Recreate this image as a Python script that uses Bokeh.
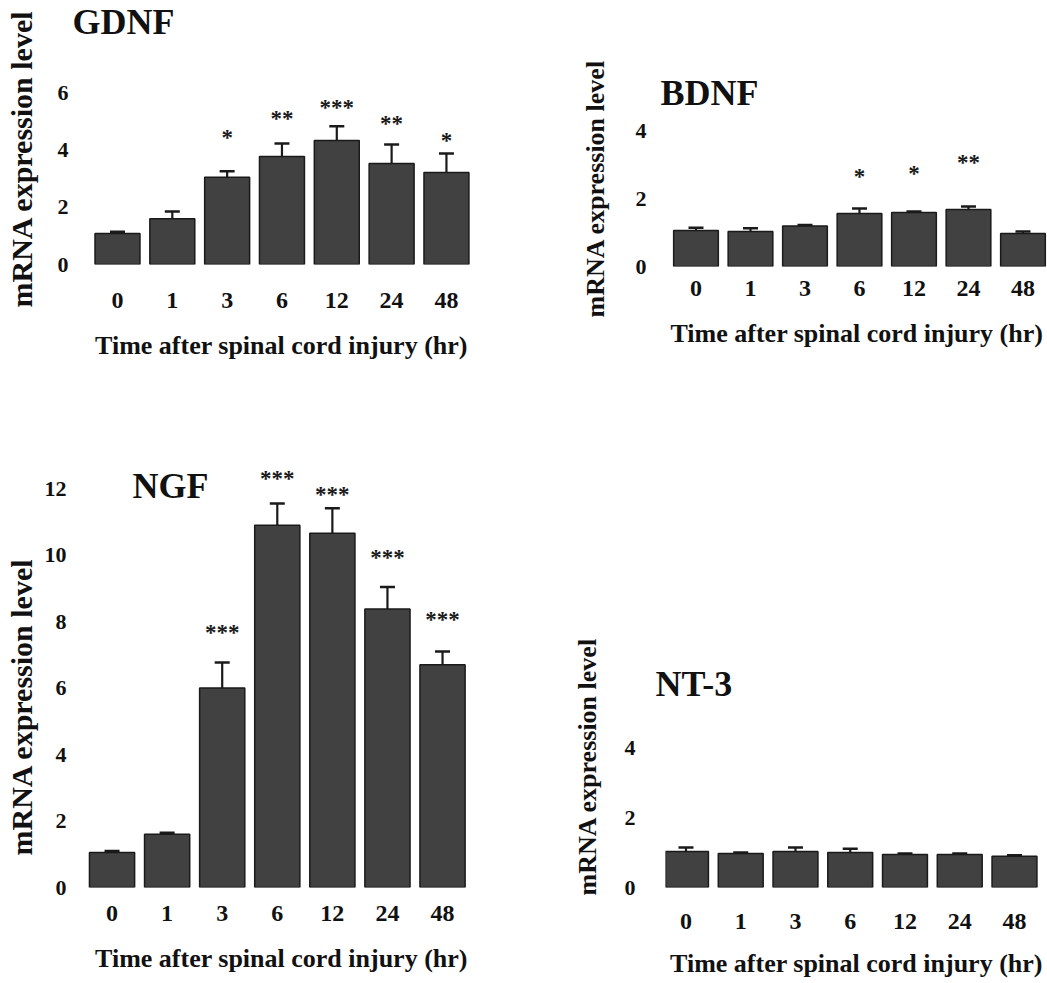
from bokeh.plotting import figure
from bokeh.models import Range1d, FixedTicker, Label, Whisker, ColumnDataSource, TeeHead, Title
from bokeh.layouts import column, row
from bokeh.embed import file_html
from bokeh.resources import INLINE
from bokeh.core.properties import value

# ---------------- data ----------------
categories = ["0", "1", "3", "6", "12", "24", "48"]

gdnf_mean = [1.08, 1.60, 3.04, 3.77, 4.33, 3.52, 3.21]
gdnf_sem = [0.06, 0.25, 0.21, 0.45, 0.49, 0.67, 0.66]
gdnf_sig = ["", "", "*", "**", "***", "**", "*"]
gdnf_sig_y = [0, 0, 4.54, 5.20, 5.59, 5.03, 4.43]

bdnf_mean = [1.07, 1.04, 1.20, 1.57, 1.60, 1.69, 0.98]
bdnf_sem = [0.08, 0.09, 0.03, 0.15, 0.03, 0.09, 0.06]
bdnf_sig = ["", "", "", "*", "*", "**", ""]
bdnf_sig_y = [0, 0, 0, 2.76, 2.84, 3.17, 0]

ngf_mean = [1.05, 1.60, 6.00, 10.90, 10.66, 8.38, 6.70]
ngf_sem = [0.05, 0.05, 0.77, 0.65, 0.75, 0.66, 0.40]
ngf_sig = ["", "", "***", "***", "***", "***", "***"]
ngf_sig_y = [0, 0, 7.75, 12.40, 11.90, 10.03, 8.14]

nt3_mean = [1.03, 0.97, 1.03, 1.00, 0.94, 0.94, 0.89]
nt3_sem = [0.11, 0.03, 0.11, 0.11, 0.03, 0.03, 0.03]
nt3_sig = ["", "", "", "", "", "", ""]
nt3_sig_y = [0, 0, 0, 0, 0, 0, 0]

y_label = "mRNA expression level"
x_label = "Time after spinal cord injury (hr)"

FONT = "Liberation Serif"
FONT_V = value(FONT)
BAR_FILL = "#414141"
DARK = "#1a1a1a"
TXT = "#111111"


def panel(name, mean, sem, sig, sig_y, yticks, g):
    p = figure(width=g["w"], height=g["h"],
               x_range=Range1d(g["xs"], g["xe"]), y_range=Range1d(0, g["ye"]),
               output_backend="svg", toolbar_location=None, title=None,
               min_border_left=g["bl"], min_border_right=g["br"],
               min_border_top=g["bt"], min_border_bottom=g["bb"])
    try:
        p.frame_align = False
    except Exception:
        pass
    p.outline_line_color = None
    p.xgrid.visible = False
    p.ygrid.visible = False

    xs = list(range(len(categories)))
    tops = [m + s for m, s in zip(mean, sem)]
    src = ColumnDataSource(dict(x=xs, mean=mean, top=tops, sig=sig, sig_y=sig_y))

    p.vbar(x="x", top="mean", bottom=0, width=0.82, source=src,
           fill_color=BAR_FILL, line_color=DARK, line_width=1.5)
    p.add_layout(Whisker(source=src, base="x", lower="mean", upper="top", dimension="height",
                         line_color=DARK, line_width=2.2,
                         upper_head=TeeHead(size=15, line_color=DARK, line_width=2.5),
                         lower_head=None))
    p.text(x="x", y="sig_y", text="sig", source=src, text_align="center",
           text_baseline="middle", y_offset=3, text_font=FONT_V,
           text_font_style="bold", text_font_size="23px", text_color=DARK)

    if g.get("ptitle"):
        p.title = Title(text=name, align="left", offset=g["toff"], standoff=g["tst"],
                        text_font=FONT, text_font_style="bold", text_font_size="36px",
                        text_color=TXT)
    else:
        p.add_layout(Label(x=g["tx"], y=g["ty"], text=name, text_font=FONT,
                           text_font_style="bold", text_font_size="36px",
                           text_align="left", text_baseline="middle", text_color=TXT))

    for ax in (p.xaxis[0], p.yaxis[0]):
        ax.axis_line_color = None
        ax.major_tick_line_color = None
        ax.minor_tick_line_color = None
        ax.major_tick_out = 0
        ax.major_tick_in = 0
        ax.major_label_text_font = FONT
        ax.major_label_text_font_style = "bold"
        ax.major_label_text_color = TXT
        ax.axis_label_text_font = FONT
        ax.axis_label_text_font_style = "bold"
        ax.axis_label_text_color = TXT

    xa = p.xaxis[0]
    xa.ticker = FixedTicker(ticks=xs, minor_ticks=[])
    xa.major_label_overrides = {i: c for i, c in enumerate(categories)}
    xa.major_label_text_font_size = "24px"
    xa.major_label_standoff = g["xls"]
    if g.get("xtitle"):
        p.add_layout(Title(text=x_label, align="left", offset=g["xoff"], standoff=g["xst"],
                           text_font=FONT, text_font_style="bold", text_font_size="26px",
                           text_color=TXT), "below")
    else:
        xa.axis_label = x_label
        xa.axis_label_text_font_size = "26px"
        xa.axis_label_standoff = g["xas"]

    ya = p.yaxis[0]
    ya.ticker = FixedTicker(ticks=yticks, minor_ticks=[])
    ya.major_label_text_font_size = "22px"
    ya.major_label_standoff = g["yls"]
    if "ygap" in g:
        # thin spacer between tick labels and the rotated y title
        ya.axis_label = " "
        ya.axis_label_text_font_size = "1px"
        ya.axis_label_standoff = g["ygap"]
    p.add_layout(Title(text=y_label, align="left", offset=g["yoff"], standoff=g["yst"],
                       text_font=FONT, text_font_style="bold", text_font_size=g["yfs"],
                       text_color=TXT), "left")
    return p


g1 = dict(w=548, h=412, bl=70, br=56, bt=0, bb=148, xs=-0.857, xe=6.84, ye=9.21,
          tx=-0.82, ty=8.45, xls=28, xas=20, yls=2, ygap=13, yoff=-43, yst=0, yfs="30px")
g2 = dict(w=499, h=412, bl=110, br=0, bt=0, bb=146, xs=-0.688, xe=6.45, ye=7.88,
          tx=-0.651, ty=5.13, xls=14, xtitle=True, xoff=12, xst=36, yls=12, yoff=-51,
          yst=46, yfs="26px")
g3 = dict(w=548, h=569, bl=84, br=70, bt=0, bb=94, xs=-0.5, xe=6.653, ye=14.29,
          tx=0.371, ty=12.09, xls=18, xas=20, yls=18, ygap=0, yoff=32, yst=0, yfs="30px")
g4 = dict(w=499, h=569, bl=117, br=0, bt=293, bb=94, xs=-0.374, xe=6.603, ye=5.2,
          ptitle=True, toff=-10, tst=4, xls=26, xas=17, yls=30, yoff=-8, yst=40,
          yfs="26px")

p1 = panel("GDNF", gdnf_mean, gdnf_sem, gdnf_sig, gdnf_sig_y, [0, 2, 4, 6], g1)
p2 = panel("BDNF", bdnf_mean, bdnf_sem, bdnf_sig, bdnf_sig_y, [0, 2, 4], g2)
p3 = panel("NGF", ngf_mean, ngf_sem, ngf_sig, ngf_sig_y, [0, 2, 4, 6, 8, 10, 12], g3)
p4 = panel("NT-3", nt3_mean, nt3_sem, nt3_sig, nt3_sig_y, [0, 2, 4], g4)

layout = column(row(p1, p2), row(p3, p4))
open("out.html", "w").write(file_html(layout, INLINE))
